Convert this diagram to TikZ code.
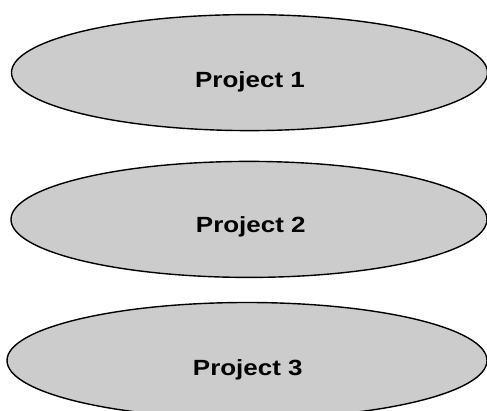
\documentclass[tikz,border=0pt]{standalone}
\usepackage{fontspec}
\setmainfont{Liberation Sans}
\usetikzlibrary{shapes.geometric}
\begin{document}
\begin{tikzpicture}[x=1pt,y=1pt,
  project/.style={ellipse, draw=black, fill=black!20, line width=1.4pt,
    inner sep=0pt, minimum width=476pt, minimum height=116pt},
  projlabel/.style={anchor=base, inner sep=0pt,
    font=\fontsize{22}{26}\selectfont\bfseries}]
  \useasboundingbox (0,0) rectangle (487,410);
  \clip (0,0) rectangle (487,410);
  % the three project ellipses, top to bottom
  \node[project] (p1) at (249.5,337.4) {};
  \node[project] (p2) at (249.0,190.6) {};
  \node[project, minimum width=480pt] (p3) at (247.0,49.5) {};
  % their labels, set a little below each centre
  \node[projlabel] (t1) at (250.0,322.7) {\scalebox{1.18}[1]{Project 1}};
  \node[projlabel] (t2) at (250.8,177.7) {\scalebox{1.18}[1]{Project 2}};
  \node[projlabel] (t3) at (247.8,34.3) {\scalebox{1.18}[1]{Project 3}};
\end{tikzpicture}
\end{document}
